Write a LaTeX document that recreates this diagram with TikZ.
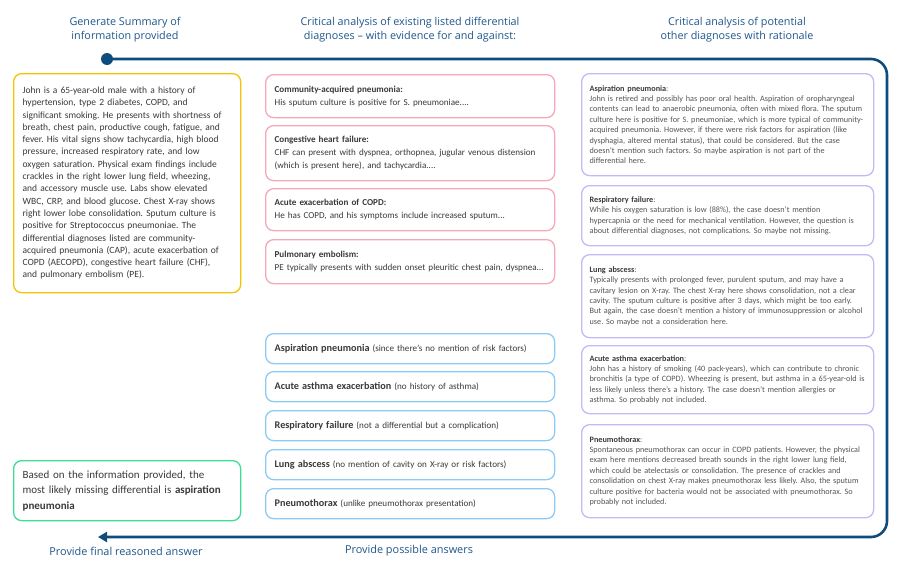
\documentclass[tikz,border=0pt]{standalone}
\usepackage{fontspec}
\setmainfont{Carlito}
\newfontfamily\headfont{Open Sans}
\usepackage{tikz}
\usetikzlibrary{arrows.meta, positioning}
\frenchspacing

\definecolor{ygold}{RGB}{245,196,0}
\definecolor{lpink}{RGB}{247,168,184}
\definecolor{lblue}{RGB}{140,203,247}
\definecolor{lpurple}{RGB}{196,185,247}
\definecolor{lgreen}{RGB}{61,220,151}
\definecolor{flowblue}{RGB}{13,76,125}
\definecolor{headblue}{RGB}{31,86,140}
\definecolor{bodygray}{RGB}{58,58,58}
\definecolor{midgray}{RGB}{85,85,85}

\begin{document}
\begin{tikzpicture}[
    x=1pt, y=-1pt,
    card/.style={rectangle, draw=#1, rounded corners=8pt, line width=1.3pt, fill=white, anchor=north west, inner xsep=9pt, inner ysep=3pt, align=left, text=bodygray},
    summary/.style={card=ygold, minimum width=227pt, text width=209pt, font=\fontsize{9.5}{12.3}\selectfont},
    listed/.style={card=lpink, minimum width=289pt, text width=271pt, font=\fontsize{9.1}{13}\selectfont},
    possible/.style={card=lblue, minimum width=289pt, minimum height=30pt, text width=271pt, font=\fontsize{9.1}{10}\selectfont},
    other/.style={card=lpurple, minimum width=292pt, inner xsep=8pt, text width=276pt, font=\fontsize{8.2}{10.4}\selectfont, text=midgray},
    final/.style={card=lgreen, minimum width=227pt, minimum height=60pt, text width=209pt, font=\fontsize{11}{15.5}\selectfont},
    head/.style={font=\headfont\fontsize{10.8}{13.5}\selectfont, text=headblue, align=center},
    flow/.style={line width=2.6pt, draw=flowblue, rounded corners=16pt, -{Triangle[length=9pt, width=10pt]}}
]
\useasboundingbox (0,0) rectangle (900,570);

% Column headings
\node[head] (h1) at (125,29.5) {Generate Summary of\\information provided};
\node[head] (h2) at (410,29.5) {Critical analysis of existing listed differential\\diagnoses – with evidence for and against:};
\node[head] (h3) at (737,29.5) {Critical analysis of potential\\other diagnoses with rationale};

% Flow line
\node[circle, fill=flowblue, minimum size=12pt, inner sep=0pt] (start) at (107,59) {};
\coordinate (rail) at (887,300);
\coordinate (end) at (98,537);
\draw[flow] (start.center) -- (start -| rail) |- (end);

% Summary
\node[summary, minimum height=219pt] (case) at (13,73) {John is a 65-year-old male with a history of\\
hypertension, type 2 diabetes, COPD, and\\
significant smoking. He presents with shortness of\\
breath, chest pain, productive cough, fatigue, and\\
fever. His vital signs show tachycardia, high blood\\
pressure, increased respiratory rate, and low\\
oxygen saturation. Physical exam findings include\\
crackles in the right lower lung field, wheezing,\\
and accessory muscle use. Labs show elevated\\
WBC, CRP, and blood glucose. Chest X-ray shows\\
right lower lobe consolidation. Sputum culture is\\
positive for Streptococcus pneumoniae. The\\
differential diagnoses listed are community-\\
acquired pneumonia (CAP), acute exacerbation of\\
COPD (AECOPD), congestive heart failure (CHF),\\
and pulmonary embolism (PE).};

% Listed differentials
\node[listed, minimum height=43pt] (cap) at (265,74) {\textbf{Community-acquired pneumonia:}\\
His sputum culture is positive for S. pneumoniae....};
\node[listed, minimum height=55pt] (chf) at (265,125) {\textbf{Congestive heart failure:}\\
CHF can present with dyspnea, orthopnea, jugular venous distension\\
(which is present here), and tachycardia....};
\node[listed, minimum height=42pt] (copd) at (265,188) {\textbf{Acute exacerbation of COPD:}\\
He has COPD, and his symptoms include increased sputum...};
\node[listed, minimum height=44pt] (pe) at (265,239) {\textbf{Pulmonary embolism:}\\
PE typically presents with sudden onset pleuritic chest pain, dyspnea...};

% Possible answers
\node[possible] (pa1) at (265,333) {{\fontsize{10.2}{11}\selectfont\bfseries Aspiration pneumonia} (since there's no mention of risk factors)};
\node[possible] (pa2) at (265,371) {{\fontsize{10.2}{11}\selectfont\bfseries Acute asthma exacerbation} (no history of asthma)};
\node[possible] (pa3) at (265,410) {{\fontsize{10.2}{11}\selectfont\bfseries Respiratory failure} (not a differential but a complication)};
\node[possible] (pa4) at (265,449) {{\fontsize{10.2}{11}\selectfont\bfseries Lung abscess} (no mention of cavity on X-ray or risk factors)};
\node[possible] (pa5) at (265,488) {{\fontsize{10.2}{11}\selectfont\bfseries Pneumothorax} (unlike pneumothorax presentation)};

% Other diagnoses
\node[other, minimum height=102pt] (asp) at (581,73) {\textbf{\color{bodygray}Aspiration pneumonia}:\\
John is retired and possibly has poor oral health. Aspiration of oropharyngeal\\
contents can lead to anaerobic pneumonia, often with mixed flora. The sputum\\
culture here is positive for S. pneumoniae, which is more typical of community-\\
acquired pneumonia. However, if there were risk factors for aspiration (like\\
dysphagia, altered mental status), that could be considered. But the case\\
doesn't mention such factors. So maybe aspiration is not part of the\\
differential here.};
\node[other, minimum height=60pt] (resp) at (581,185) {\textbf{\color{bodygray}Respiratory failure}:\\
While his oxygen saturation is low (88\%), the case doesn't mention\\
hypercapnia or the need for mechanical ventilation. However, the question is\\
about differential diagnoses, not complications. So maybe not missing.};
\node[other, minimum height=83pt] (abs) at (581,254) {\textbf{\color{bodygray}Lung abscess}:\\
Typically presents with prolonged fever, purulent sputum, and may have a\\
cavitary lesion on X-ray. The chest X-ray here shows consolidation, not a clear\\
cavity. The sputum culture is positive after 3 days, which might be too early.\\
But again, the case doesn't mention a history of immunosuppression or alcohol\\
use. So maybe not a consideration here.};
\node[other, minimum height=68pt] (asth) at (581,345) {\textbf{\color{bodygray}Acute asthma exacerbation}:\\
John has a history of smoking (40 pack-years), which can contribute to chronic\\
bronchitis (a type of COPD). Wheezing is present, but asthma in a 65-year-old is\\
less likely unless there's a history. The case doesn't mention allergies or\\
asthma. So probably not included.};
\node[other, minimum height=93pt] (ptx) at (581,424) {\textbf{\color{bodygray}Pneumothorax}:\\
Spontaneous pneumothorax can occur in COPD patients. However, the physical\\
exam here mentions decreased breath sounds in the right lower lung field,\\
which could be atelectasis or consolidation. The presence of crackles and\\
consolidation on chest X-ray makes pneumothorax less likely. Also, the sputum\\
culture positive for bacteria would not be associated with pneumothorax. So\\
probably not included.};

% Final answer
\node[final] (answer) at (13,460) {Based on the information provided, the\\
most likely missing differential is \textbf{aspiration}\\
\textbf{pneumonia}};

% Bottom labels
\node[head, font=\headfont\fontsize{10.9}{13}\selectfont] (lfinal) at (126,551) {Provide final reasoned answer};
\node[head, font=\headfont\fontsize{10.9}{13}\selectfont] (lposs) at (409,551) {Provide possible answers};

\end{tikzpicture}
\end{document}
